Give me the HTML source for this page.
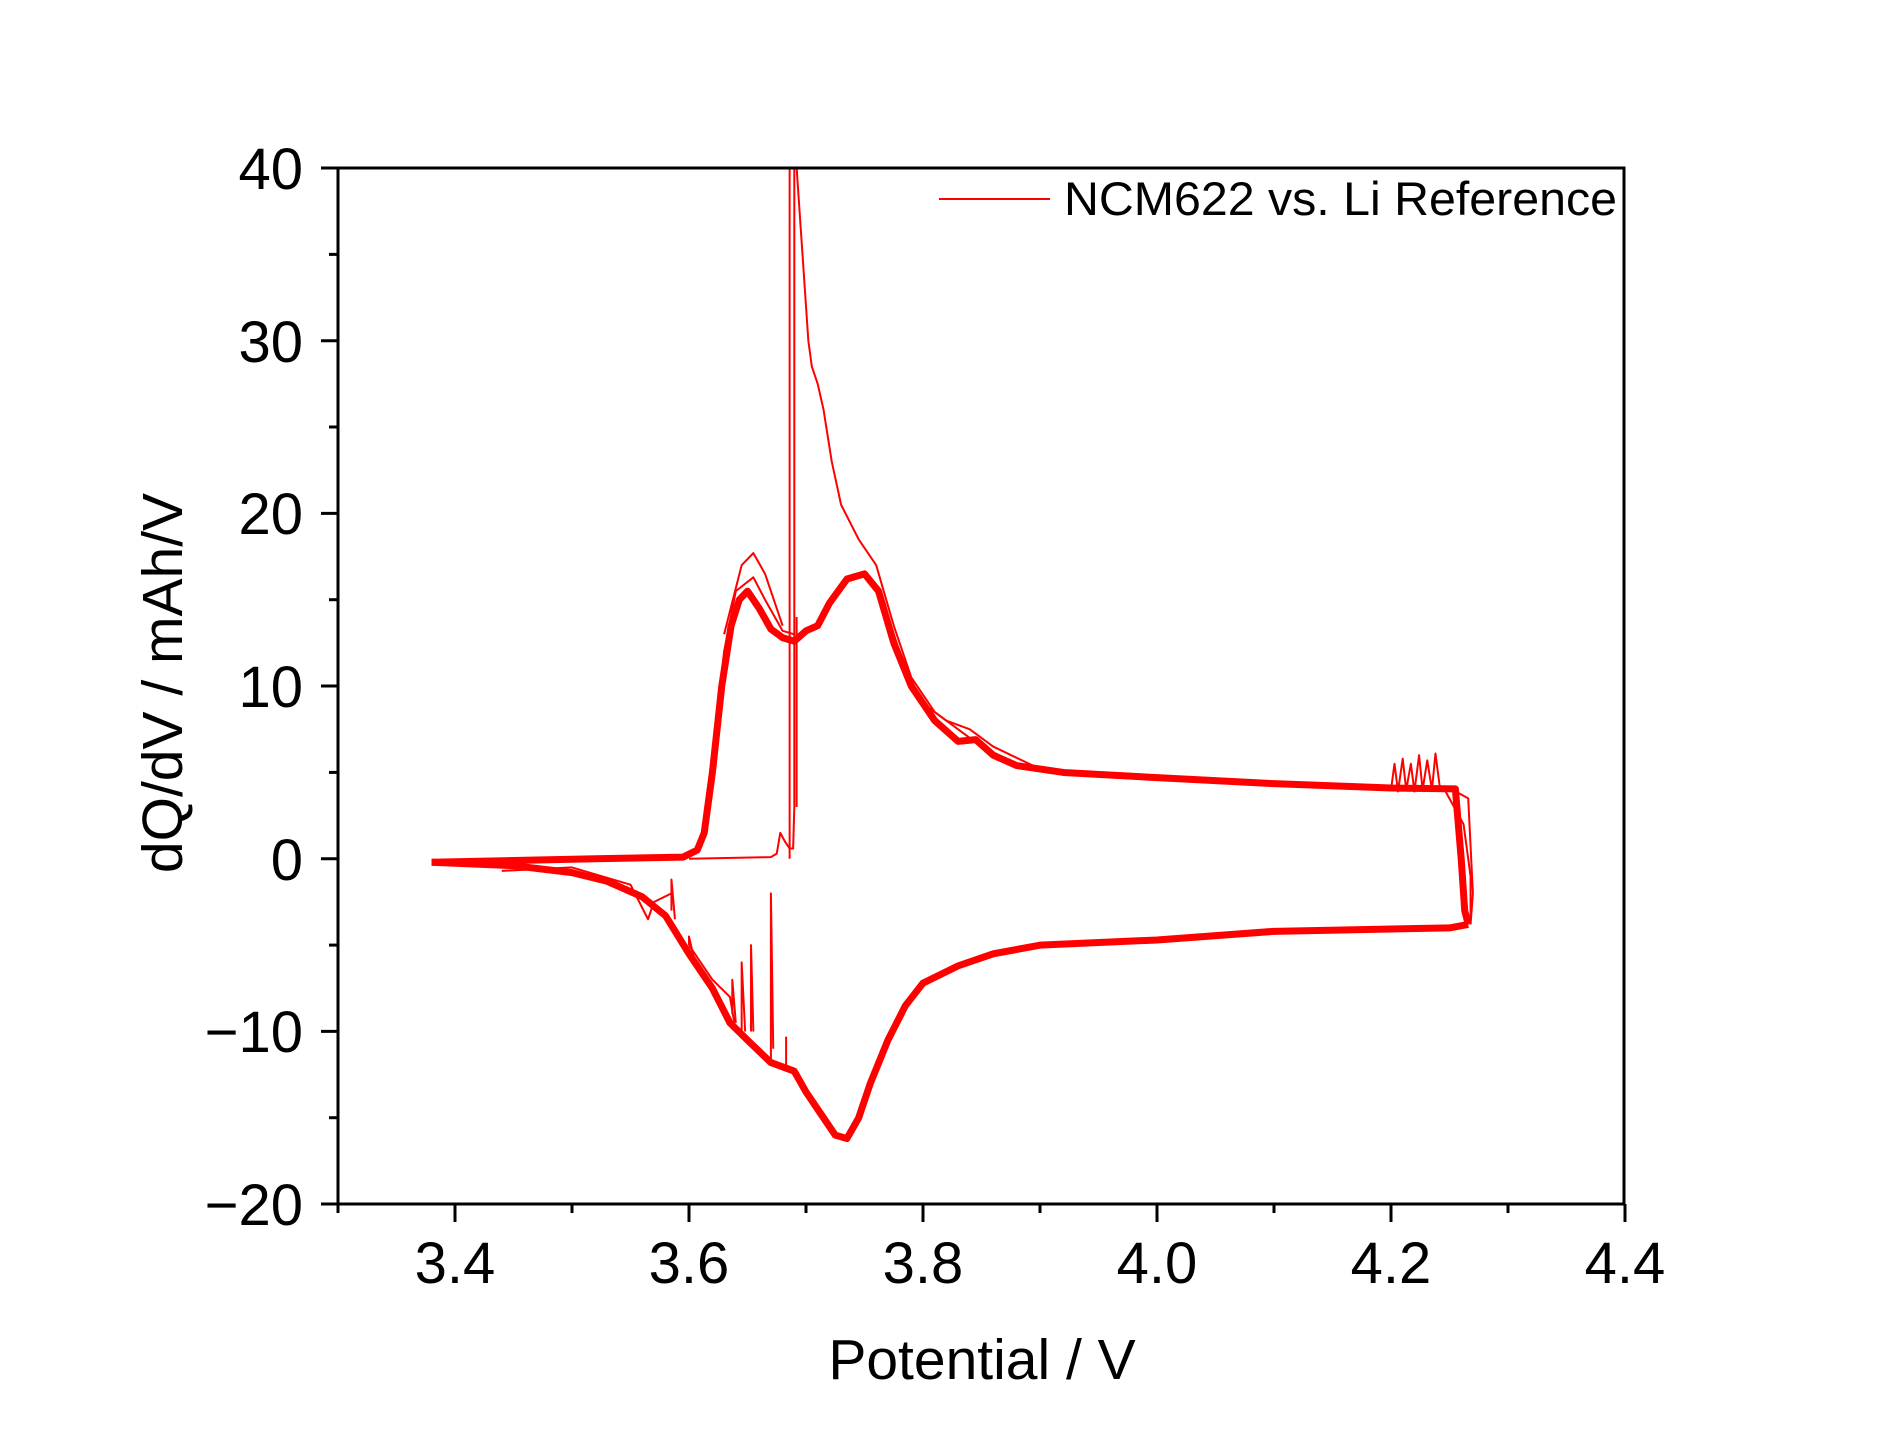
<!DOCTYPE html>
<html><head><meta charset="utf-8"><style>
html,body{margin:0;padding:0;background:#fff;}
svg{display:block;}
text{font-family:"Liberation Sans",Arial,sans-serif;fill:#000;}
</style></head><body>
<svg width="1887" height="1444" viewBox="0 0 1887 1444" xmlns="http://www.w3.org/2000/svg">
<rect width="1887" height="1444" fill="#fff"/>
<g transform="translate(338,168) scale(1170,-17.27) translate(-3.3,-40)" fill="none" stroke="#ff0000" stroke-linejoin="round">
<polyline vector-effect="non-scaling-stroke" stroke-width="7" points="3.38,-0.2 3.45,-0.1 3.52,0 3.595,0.1 3.607,0.5 3.613,1.5 3.62,5 3.628,10 3.636,13.5 3.643,15 3.65,15.5 3.66,14.5 3.67,13.3 3.68,12.8 3.69,12.6 3.7,13.2 3.71,13.5 3.72,14.8 3.735,16.2 3.75,16.5 3.762,15.5 3.775,12.5 3.79,10 3.81,8 3.83,6.8 3.845,6.9 3.86,6 3.88,5.4 3.92,5 4.0,4.7 4.1,4.35 4.2,4.1 4.255,4.05 4.26,0 4.263,-3 4.266,-3.8"/>
<polyline vector-effect="non-scaling-stroke" stroke-width="2" points="3.6,0.1 3.61,1 3.62,6 3.63,12 3.64,15.5 3.655,16.3 3.665,15 3.68,13.2 3.69,13"/>
<polyline vector-effect="non-scaling-stroke" stroke-width="2" points="3.77,14 3.785,11 3.8,9 3.82,8 3.84,7.5 3.86,6.5 3.9,5.2"/>
<polyline vector-effect="non-scaling-stroke" stroke-width="2" points="3.6,0 3.67,0.1 3.675,0.3 3.678,1.5 3.682,1 3.686,0.6 3.689,0.6 3.69,3 3.69,40"/>
<polyline vector-effect="non-scaling-stroke" stroke-width="2" points="3.63,13 3.645,17 3.655,17.7 3.665,16.5 3.68,13.5"/>
<polyline vector-effect="non-scaling-stroke" stroke-width="2" points="3.686,0 3.686,40"/>
<polyline vector-effect="non-scaling-stroke" stroke-width="2" points="3.692,40 3.697,35 3.702,30 3.705,28.5 3.71,27.5 3.715,26 3.722,23 3.73,20.5 3.745,18.5 3.76,17 3.775,13.5 3.79,10.5 3.81,8.5 3.83,7.5 3.85,6.5 3.88,5.5"/>
<polyline vector-effect="non-scaling-stroke" stroke-width="2" points="3.692,3 3.692,14"/>
<polyline vector-effect="non-scaling-stroke" stroke-width="2" points="4.2,4 4.203,5.5 4.206,3.9 4.21,5.8 4.213,4 4.217,5.5 4.22,3.9 4.224,6 4.227,4 4.231,5.7 4.235,4 4.238,6.1 4.242,4"/>
<polyline vector-effect="non-scaling-stroke" stroke-width="2" points="4.245,4.1 4.262,2 4.268,-1 4.268,-3.5"/>
<polyline vector-effect="non-scaling-stroke" stroke-width="2" points="4.25,4.1 4.266,3.5 4.27,-2 4.268,-3.8"/>
<polyline vector-effect="non-scaling-stroke" stroke-width="7" points="4.266,-3.8 4.25,-4 4.1,-4.2 4.0,-4.7 3.9,-5 3.86,-5.5 3.83,-6.2 3.8,-7.2 3.785,-8.5 3.77,-10.5 3.755,-13 3.745,-15 3.735,-16.2 3.725,-16 3.715,-15 3.7,-13.5 3.69,-12.3 3.67,-11.8 3.65,-10.5 3.635,-9.5 3.62,-7.5 3.6,-5.5 3.58,-3.3 3.56,-2.2 3.53,-1.3 3.5,-0.8 3.45,-0.4 3.38,-0.2"/>
<polyline vector-effect="non-scaling-stroke" stroke-width="2" points="3.6,-5 3.62,-7 3.635,-8 3.64,-10 3.65,-10.5"/>
<polyline vector-effect="non-scaling-stroke" stroke-width="2" points="3.44,-0.7 3.5,-0.5 3.55,-1.5 3.565,-3.5 3.57,-2.5 3.585,-2"/>
<polyline vector-effect="non-scaling-stroke" stroke-width="2" points="3.585,-3 3.585,-1.2 3.588,-3.5"/>
<polyline vector-effect="non-scaling-stroke" stroke-width="2" points="3.6,-5 3.6,-4.5 3.605,-6"/>
<polyline vector-effect="non-scaling-stroke" stroke-width="2" points="3.637,-9 3.637,-7 3.64,-9.5"/>
<polyline vector-effect="non-scaling-stroke" stroke-width="2" points="3.645,-10 3.645,-6 3.648,-10"/>
<polyline vector-effect="non-scaling-stroke" stroke-width="2" points="3.653,-10 3.653,-5 3.655,-10"/>
<polyline vector-effect="non-scaling-stroke" stroke-width="2" points="3.67,-12 3.67,-2 3.672,-11"/>
<polyline vector-effect="non-scaling-stroke" stroke-width="2" points="3.683,-12 3.683,-10.3"/>
</g>
<line x1="939" y1="199" x2="1050" y2="199" stroke="#ff0000" stroke-width="2"/>
<text x="1064" y="215" font-size="47" textLength="553" lengthAdjust="spacingAndGlyphs">NCM622 vs. Li Reference</text>
<rect x="338" y="168" width="1286" height="1036" fill="none" stroke="#000" stroke-width="3"/>
<g stroke="#000" stroke-width="3">
<line x1="338" y1="168" x2="321" y2="168"/><line x1="338" y1="340.7" x2="321" y2="340.7"/><line x1="338" y1="513.4" x2="321" y2="513.4"/><line x1="338" y1="686" x2="321" y2="686"/><line x1="338" y1="858.8" x2="321" y2="858.8"/><line x1="338" y1="1031.4" x2="321" y2="1031.4"/><line x1="338" y1="1204" x2="321" y2="1204"/>
<line x1="338" y1="254.4" x2="329" y2="254.4"/><line x1="338" y1="427" x2="329" y2="427"/><line x1="338" y1="599.7" x2="329" y2="599.7"/><line x1="338" y1="772.4" x2="329" y2="772.4"/><line x1="338" y1="945.1" x2="329" y2="945.1"/><line x1="338" y1="1117.7" x2="329" y2="1117.7"/>
<line x1="455" y1="1204" x2="455" y2="1222"/><line x1="689" y1="1204" x2="689" y2="1222"/><line x1="923" y1="1204" x2="923" y2="1222"/><line x1="1157" y1="1204" x2="1157" y2="1222"/><line x1="1391" y1="1204" x2="1391" y2="1222"/><line x1="1625" y1="1204" x2="1625" y2="1222"/>
<line x1="338" y1="1204" x2="338" y2="1213"/><line x1="572" y1="1204" x2="572" y2="1213"/><line x1="806" y1="1204" x2="806" y2="1213"/><line x1="1040" y1="1204" x2="1040" y2="1213"/><line x1="1274" y1="1204" x2="1274" y2="1213"/><line x1="1508" y1="1204" x2="1508" y2="1213"/>
</g>
<g font-size="58" text-anchor="end">
<text x="303" y="189">40</text><text x="303" y="362">30</text><text x="303" y="534">20</text><text x="303" y="707">10</text><text x="303" y="880">0</text><text x="303" y="1052">−10</text><text x="303" y="1225">−20</text>
</g>
<g font-size="58" text-anchor="middle">
<text x="455" y="1283">3.4</text><text x="689" y="1283">3.6</text><text x="923" y="1283">3.8</text><text x="1157" y="1283">4.0</text><text x="1391" y="1283">4.2</text><text x="1625" y="1283">4.4</text>
</g>
<text x="982" y="1379" font-size="57" text-anchor="middle">Potential / V</text>
<text transform="translate(182,683) rotate(-90)" font-size="57" text-anchor="middle">dQ/dV / mAh/V</text>
</svg>
</body></html>
